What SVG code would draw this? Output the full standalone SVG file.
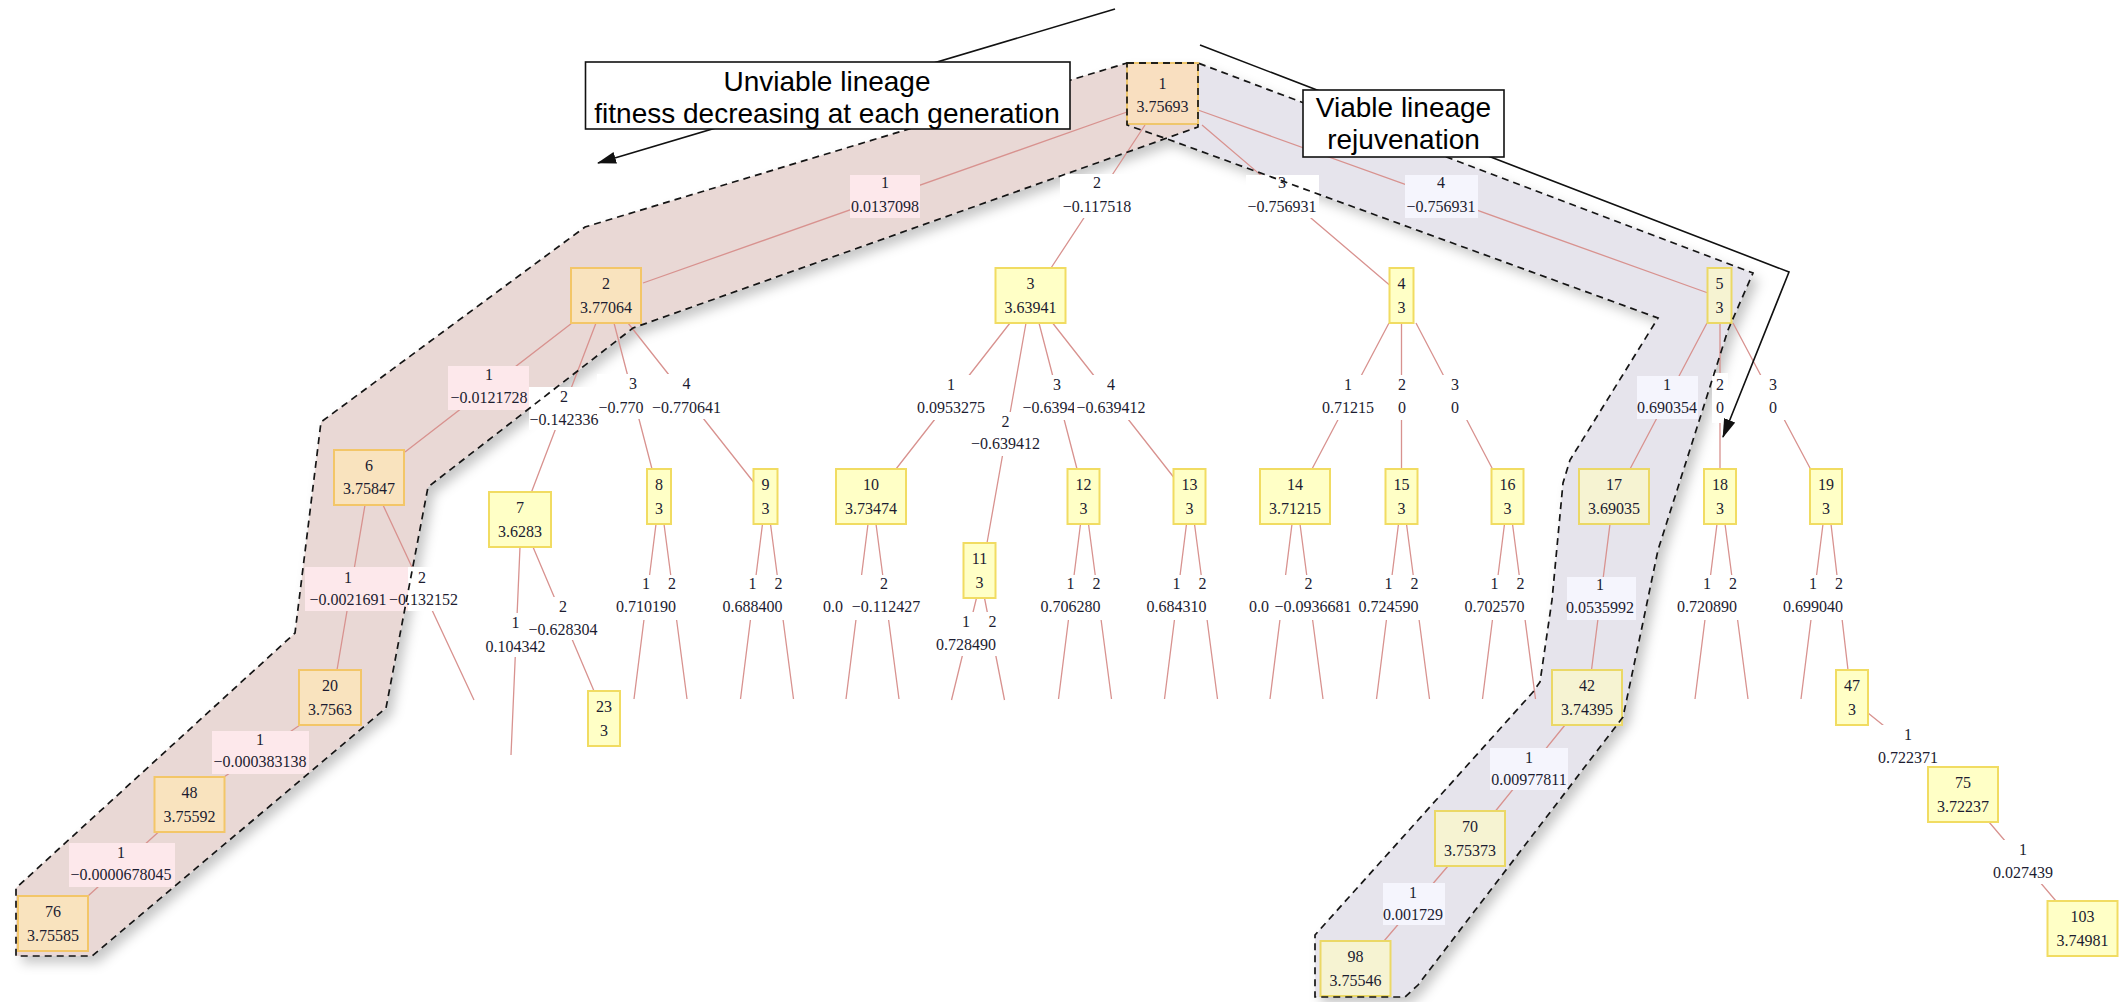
<svg xmlns="http://www.w3.org/2000/svg" width="2125" height="1002" viewBox="0 0 2125 1002">
<defs>
<style>
.edge{stroke:#d8928f;stroke-width:1.3;fill:none}
.hl{fill:#e9d8d5}
.hr{fill:#e6e4ec}
.hs{fill:none;stroke:#151515;stroke-width:1.7;stroke-dasharray:7 5}
.n rect{stroke-width:2}
.ny rect{fill:#ffffc6;stroke:#f1dc62}
.no rect{fill:#f9e3be;stroke:#f3c668}
.nb rect{fill:#f6f3d2;stroke:#ebd866}
.nr rect{fill:#f9dfc0;stroke:#efc66c}
text{font-family:"Liberation Serif","Times New Roman",serif;font-size:16px;fill:#1c1c30;text-anchor:middle}
text.st{text-anchor:start}
.bw{fill:#ffffff}
.bp{fill:#fde8eb}
.bl{fill:#f5f5fd}
.ann rect{fill:#ffffff;stroke:#111;stroke-width:1.6}
.ann text{font-family:"Liberation Sans",Arial,sans-serif;font-size:28px;fill:#000}
.arrow{fill:none;stroke:#111;stroke-width:1.6}
</style>
<marker id="ah" markerUnits="userSpaceOnUse" markerWidth="19" markerHeight="12" viewBox="0 0 19 12" refX="18" refY="6" orient="auto">
<path d="M0,0 L19,6 L0,12 z" fill="#111"/>
</marker>
<filter id="sh" x="-5%" y="-5%" width="115%" height="115%">
<feGaussianBlur in="SourceAlpha" stdDeviation="6"/>
<feOffset dx="6" dy="7" result="b"/>
<feFlood flood-color="#000" flood-opacity="0.22"/>
<feComposite in2="b" operator="in"/>
<feMerge><feMergeNode/><feMergeNode in="SourceGraphic"/></feMerge>
</filter>
</defs>
<rect width="2125" height="1002" fill="#ffffff"/>

<!-- lineage clusters (fills) -->
<g id="clusters" filter="url(#sh)">
<polygon class="hr" points="1127,63 1198,63 1753,273 1728,330 1658,550 1642,627 1623,717 1418,985 1405,997 1315,997 1315,935 1533,692 1540,682 1552,600 1563,483 1570,460 1658,318 1170,140 1127,125"/>
<polygon class="hl" points="1127,63 1198,63 1198,127 633,328 428,487 386,708 92,956 16,956 16,888 295,633 321,422 585,227"/>
</g>

<!-- connectors -->
<g id="edges">
<path class="edge" d="M1127,112L643,283M1145,125L1051,268M1202,125L1389.5,285M1198,110L1708,293"/>
<path class="edge" d="M572,323L405,452M596,323L531.5,492M614,323L652,469M628,323L753.5,482"/>
<path class="edge" d="M1010,323L896,469M1026,323L987,543M1039,323L1077,469M1052.6,323L1173.5,477"/>
<path class="edge" d="M1389,323L1312,469M1401.5,323L1401.5,469M1416,323L1492.5,469"/>
<path class="edge" d="M1707,323L1630,469M1720,323L1720,469M1733,323L1810.5,469"/>
<path class="edge" d="M365,505L337,670M383,505L474,700M520,547L511,755M533,547L594,691"/>
<path class="edge" d="M656,524L634,699M664,524L687,699M762.5,524L740.5,699M770.5,524L793.5,699M868,524L846,699M876,524L899,699"/>
<path class="edge" d="M976.5,598L951.5,700M984.5,598L1004.5,700M1080.5,524L1058.5,699M1088.5,524L1111.5,699M1186.5,524L1164.5,699M1194.5,524L1217.5,699"/>
<path class="edge" d="M1292,524L1270,699M1300,524L1323,699M1398.5,524L1376.5,699M1406.5,524L1429.5,699M1504.5,524L1482.5,699M1512.5,524L1535.5,699"/>
<path class="edge" d="M1717,524L1695,699M1725,524L1748,699M1823,524L1801,699M1831,524L1848,670M1610,524L1591.5,670"/>
<path class="edge" d="M300,725L224,777M158.5,832L88,896M1565,725L1495.5,811M1448,866L1384,941M1868,713L1935,767M1989,822L2056,901"/>
</g>

<!-- connector labels -->
<g id="edge-labels">
<rect class="bp" x="850" y="175" width="70" height="43"/><text x="885" y="188">1</text><text x="885" y="212">0.0137098</text>
<rect class="bw" x="1060" y="174" width="74" height="44"/><text x="1097" y="188">2</text><text x="1097" y="212">−0.117518</text>
<rect class="bw" x="1246" y="175" width="73" height="43"/><text x="1282" y="188">3</text><text x="1282" y="212">−0.756931</text>
<rect class="bl" x="1405" y="175" width="73" height="43"/><text x="1441" y="188">4</text><text x="1441" y="212">−0.756931</text>

<rect class="bp" x="448" y="366" width="81" height="44"/><text x="489" y="380">1</text><text x="489" y="403">−0.0121728</text>
<rect class="bw" x="529" y="387" width="70" height="43"/><text x="564" y="402">2</text><text x="564" y="425">−0.142336</text>
<rect class="bw" x="597" y="374" width="72" height="45"/><text x="633" y="389">3</text><text class="st" x="598.5" y="413">−0.770</text>
<rect class="bw" x="649" y="374" width="75" height="45"/><text x="686.5" y="389">4</text><text x="686.5" y="413">−0.770641</text>

<rect class="bw" x="969" y="412" width="73" height="44"/><text x="1005.5" y="427">2</text><text x="1005.5" y="449">−0.639412</text>
<rect class="bw" x="916" y="375" width="70" height="45"/><text x="951" y="390">1</text><text x="951" y="413">0.0953275</text>
<rect class="bw" x="1021" y="375" width="72" height="45"/><text x="1057" y="390">3</text><text class="st" x="1022.5" y="413">−0.6394</text>
<rect class="bw" x="1074" y="375" width="74" height="45"/><text x="1111" y="390">4</text><text x="1111" y="413">−0.639412</text>

<rect class="bw" x="1320" y="375" width="56" height="45"/><text x="1348" y="390">1</text><text x="1348" y="413">0.71215</text>
<rect class="bw" x="1393" y="375" width="18" height="45"/><text x="1402" y="390">2</text><text x="1402" y="413">0</text>
<rect class="bw" x="1438" y="375" width="32" height="45"/><text x="1455" y="390">3</text><text x="1455" y="413">0</text>

<rect class="bl" x="1637" y="376" width="61" height="43"/><text x="1667" y="390">1</text><text x="1667" y="413">0.690354</text>
<rect class="bw" x="1712" y="373" width="16" height="50"/><text x="1720" y="390">2</text><text x="1720" y="413">0</text>
<rect class="bw" x="1757" y="375" width="32" height="45"/><text x="1773" y="390">3</text><text x="1773" y="413">0</text>

<rect class="bw" x="386" y="567" width="74" height="44"/>
<rect class="bp" x="305" y="567" width="103" height="44"/>
<text x="348" y="583">1</text><text x="348" y="605">−0.0021691</text>
<text x="422" y="583">2</text><text x="423.5" y="605">−0.132152</text>

<rect class="bw" x="484" y="613" width="64" height="44"/><text x="515.6" y="628">1</text><text x="515.6" y="652">0.104342</text>
<rect class="bw" x="526" y="597" width="74" height="43"/><text x="563" y="612">2</text><text x="563" y="635">−0.628304</text>

<rect class="bw" x="614" y="575" width="67" height="45"/><text x="646" y="589">1</text><text x="672" y="589">2</text><text x="646" y="612">0.710190</text>
<rect class="bw" x="720.5" y="575" width="67" height="45"/><text x="752.5" y="589">1</text><text x="778.5" y="589">2</text><text x="752.5" y="612">0.688400</text>
<text class="st" x="823" y="612">0.0</text>
<rect class="bw" x="850" y="575" width="72" height="45"/><text x="884" y="589">2</text><text x="886" y="612">−0.112427</text>
<rect class="bw" x="934" y="612" width="68" height="44"/><text x="966" y="627">1</text><text x="992.5" y="627">2</text><text x="966" y="650">0.728490</text>
<rect class="bw" x="1038.5" y="575" width="67" height="45"/><text x="1070.5" y="589">1</text><text x="1096.5" y="589">2</text><text x="1070.5" y="612">0.706280</text>
<rect class="bw" x="1144.5" y="575" width="67" height="45"/><text x="1176.5" y="589">1</text><text x="1202.5" y="589">2</text><text x="1176.5" y="612">0.684310</text>
<text class="st" x="1249" y="612">0.0</text>
<rect class="bw" x="1274" y="575" width="79" height="45"/><text x="1308.6" y="589">2</text><text x="1313" y="612">−0.0936681</text>
<rect class="bw" x="1356.5" y="575" width="67" height="45"/><text x="1388.5" y="589">1</text><text x="1414.5" y="589">2</text><text x="1388.5" y="612">0.724590</text>
<rect class="bw" x="1462.5" y="575" width="67" height="45"/><text x="1494.5" y="589">1</text><text x="1520.5" y="589">2</text><text x="1494.5" y="612">0.702570</text>
<rect class="bl" x="1567" y="577" width="69" height="43"/><text x="1600" y="590">1</text><text x="1600" y="613">0.0535992</text>
<rect class="bw" x="1675" y="575" width="67" height="45"/><text x="1707" y="589">1</text><text x="1733" y="589">2</text><text x="1707" y="612">0.720890</text>
<rect class="bw" x="1781" y="575" width="67" height="45"/><text x="1813" y="589">1</text><text x="1839" y="589">2</text><text x="1813" y="612">0.699040</text>

<rect class="bp" x="212" y="731" width="97" height="43"/><text x="260" y="745">1</text><text x="260" y="767">−0.000383138</text>
<rect class="bl" x="1490" y="748" width="78" height="42"/><text x="1529" y="763">1</text><text x="1529" y="785">0.00977811</text>
<rect class="bw" x="1876" y="725" width="64" height="43"/><text x="1908" y="740">1</text><text x="1908" y="763">0.722371</text>
<rect class="bp" x="69" y="843" width="106" height="44"/><text x="121" y="858">1</text><text x="121" y="880">−0.0000678045</text>
<rect class="bl" x="1383" y="883" width="62" height="42"/><text x="1413" y="898">1</text><text x="1413" y="920">0.001729</text>
<rect class="bw" x="1991" y="840" width="64" height="44"/><text x="2023" y="855">1</text><text x="2023" y="878">0.027439</text>
</g>

<!-- nodes -->
<g id="node1" class="n nr"><rect x="1127" y="63" width="71" height="61"/><text x="1162.5" y="89">1</text><text x="1162.5" y="112">3.75693</text></g>
<g id="node2" class="n no"><rect x="571" y="268" width="70" height="55"/><text x="606" y="289">2</text><text x="606" y="313">3.77064</text></g>
<g id="node3" class="n ny"><rect x="995.5" y="268" width="70" height="55"/><text x="1030.5" y="289">3</text><text x="1030.5" y="313">3.63941</text></g>
<g id="node4" class="n ny"><rect x="1389.5" y="268" width="24" height="55"/><text x="1401.5" y="289">4</text><text x="1401.5" y="313">3</text></g>
<g id="node5" class="n nb"><rect x="1707.5" y="268" width="24" height="55"/><text x="1719.5" y="289">5</text><text x="1719.5" y="313">3</text></g>
<g id="node6" class="n no"><rect x="334" y="450" width="70" height="55"/><text x="369" y="471">6</text><text x="369" y="494">3.75847</text></g>
<g id="node7" class="n ny"><rect x="489" y="492" width="62" height="55"/><text x="520" y="513">7</text><text x="520" y="537">3.6283</text></g>
<g id="node8" class="n ny"><rect x="647" y="469" width="24" height="55"/><text x="659" y="490">8</text><text x="659" y="514">3</text></g>
<g id="node9" class="n ny"><rect x="753.5" y="469" width="24" height="55"/><text x="765.5" y="490">9</text><text x="765.5" y="514">3</text></g>
<g id="node10" class="n ny"><rect x="836" y="469" width="70" height="55"/><text x="871" y="490">10</text><text x="871" y="514">3.73474</text></g>
<g id="node11" class="n ny"><rect x="963.5" y="543" width="32" height="55"/><text x="979.5" y="564">11</text><text x="979.5" y="588">3</text></g>
<g id="node12" class="n ny"><rect x="1067.5" y="469" width="32" height="55"/><text x="1083.5" y="490">12</text><text x="1083.5" y="514">3</text></g>
<g id="node13" class="n ny"><rect x="1173.5" y="469" width="32" height="55"/><text x="1189.5" y="490">13</text><text x="1189.5" y="514">3</text></g>
<g id="node14" class="n ny"><rect x="1260" y="469" width="70" height="55"/><text x="1295" y="490">14</text><text x="1295" y="514">3.71215</text></g>
<g id="node15" class="n ny"><rect x="1385.5" y="469" width="32" height="55"/><text x="1401.5" y="490">15</text><text x="1401.5" y="514">3</text></g>
<g id="node16" class="n ny"><rect x="1491.5" y="469" width="32" height="55"/><text x="1507.5" y="490">16</text><text x="1507.5" y="514">3</text></g>
<g id="node17" class="n nb"><rect x="1579" y="469" width="70" height="55"/><text x="1614" y="490">17</text><text x="1614" y="514">3.69035</text></g>
<g id="node18" class="n ny"><rect x="1704" y="469" width="32" height="55"/><text x="1720" y="490">18</text><text x="1720" y="514">3</text></g>
<g id="node19" class="n ny"><rect x="1810" y="469" width="32" height="55"/><text x="1826" y="490">19</text><text x="1826" y="514">3</text></g>
<g id="node20" class="n no"><rect x="299" y="670" width="62" height="55"/><text x="330" y="691">20</text><text x="330" y="715">3.7563</text></g>
<g id="node23" class="n ny"><rect x="588" y="691" width="32" height="55"/><text x="604" y="712">23</text><text x="604" y="736">3</text></g>
<g id="node42" class="n nb"><rect x="1552" y="670" width="70" height="55"/><text x="1587" y="691">42</text><text x="1587" y="715">3.74395</text></g>
<g id="node47" class="n ny"><rect x="1836" y="670" width="32" height="55"/><text x="1852" y="691">47</text><text x="1852" y="715">3</text></g>
<g id="node48" class="n no"><rect x="154.5" y="777" width="70" height="55"/><text x="189.5" y="798">48</text><text x="189.5" y="822">3.75592</text></g>
<g id="node70" class="n nb"><rect x="1435" y="811" width="70" height="55"/><text x="1470" y="832">70</text><text x="1470" y="856">3.75373</text></g>
<g id="node75" class="n ny"><rect x="1928" y="767" width="70" height="55"/><text x="1963" y="788">75</text><text x="1963" y="812">3.72237</text></g>
<g id="node76" class="n no"><rect x="18" y="896" width="70" height="55"/><text x="53" y="917">76</text><text x="53" y="941">3.75585</text></g>
<g id="node98" class="n nb"><rect x="1320.5" y="941" width="70" height="55"/><text x="1355.5" y="962">98</text><text x="1355.5" y="986">3.75546</text></g>
<g id="node103" class="n ny"><rect x="2047.5" y="901" width="70" height="55"/><text x="2082.5" y="922">103</text><text x="2082.5" y="946">3.74981</text></g>

<!-- lineage cluster outlines -->
<g id="cluster-outlines">
<polygon class="hs" points="1127,63 1198,63 1753,273 1728,330 1658,550 1642,627 1623,717 1418,985 1405,997 1315,997 1315,935 1533,692 1540,682 1552,600 1563,483 1570,460 1658,318 1170,140 1127,125"/>
<polygon class="hs" points="1127,63 1198,63 1198,127 633,328 428,487 386,708 92,956 16,956 16,888 295,633 321,422 585,227"/>
</g>

<!-- annotations -->
<g id="unviable-note" class="ann">
<path class="arrow" d="M1115,9L598,163" marker-end="url(#ah)"/>
<rect x="585.5" y="62" width="484.5" height="67"/>
<text x="827" y="91">Unviable lineage</text>
<text x="827" y="123">fitness decreasing at each generation</text>
</g>
<g id="viable-note" class="ann">
<path class="arrow" d="M1200,45L1789,272L1723,437" marker-end="url(#ah)"/>
<rect x="1303" y="90" width="201" height="67"/>
<text x="1403.5" y="117">Viable lineage</text>
<text x="1403.5" y="149">rejuvenation</text>
</g>
</svg>
